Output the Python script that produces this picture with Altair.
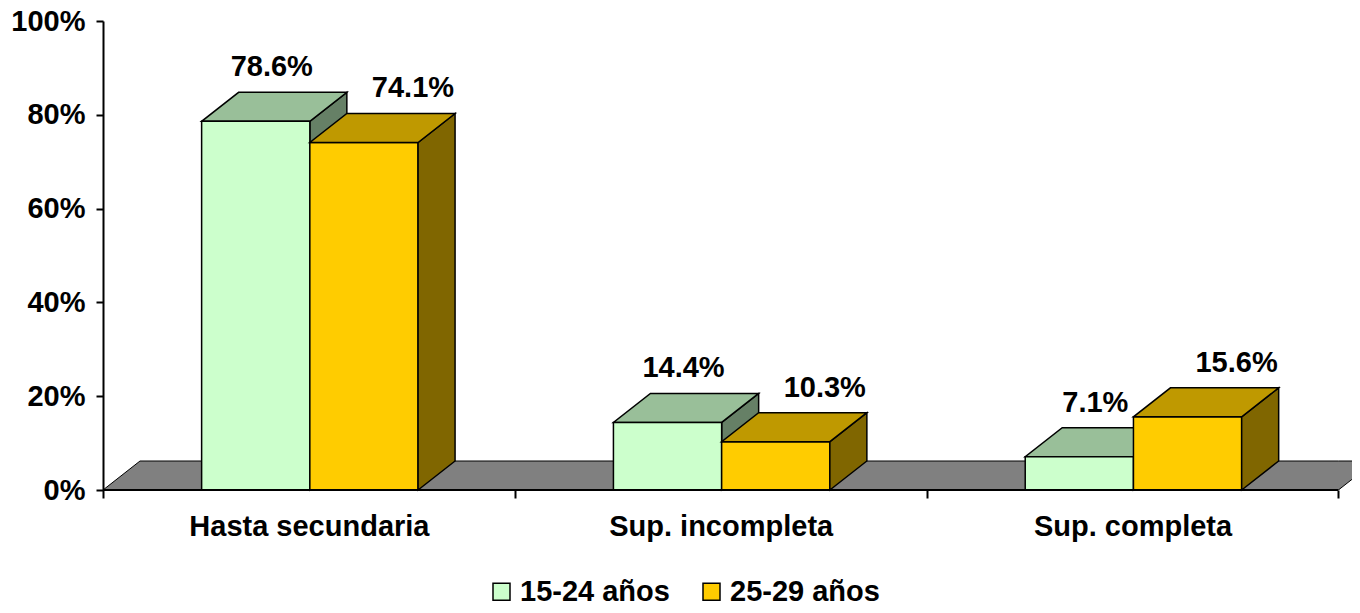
import json
import altair as alt
import pandas as pd

# ---------------- data ----------------
categories = ["Hasta secundaria", "Sup. incompleta", "Sup. completa"]
series = ["15-24 años", "25-29 años"]
values_15_24 = [78.6, 14.4, 7.1]
values_25_29 = [74.1, 10.3, 15.6]
y_ticks = [0, 20, 40, 60, 80, 100]

# ---------------- style ----------------
FONT = "Liberation Sans"
FS = 29
PLOT_W = 1249
PLOT_H = 469
PX_PER_CAT = 411.8
X_MAX = PLOT_W / PX_PER_CAT
BAR_START = 0.2395          # left edge of first bar within its category (category units)
BAR_W = 0.2628              # width of one bar (category units)
DEPTH_X = 37 / PX_PER_CAT   # 3D depth, horizontal
DEPTH_Y = 29 / PLOT_H * 100 # 3D depth, vertical (percent units)

front_colors = ["#CCFFCC", "#FFCC00"]
top_colors = ["#99BF99", "#BF9900"]
side_colors = ["#668066", "#806600"]
floor_color = "#808080"
label_dx = [16, 49]

# ---------------- geometry tables (built from the values) ----------------
bars, tops, sides = [], [], []
for s_idx, vals in enumerate([values_15_24, values_25_29]):
    for c_idx, v in enumerate(vals):
        x0 = c_idx + BAR_START + s_idx * BAR_W
        x1 = x0 + BAR_W
        bid = f"{s_idx}-{c_idx}"
        bars.append({"id": bid, "series": series[s_idx], "s": s_idx, "cat": categories[c_idx],
                     "x0": x0, "x1": x1, "xc": (x0 + x1) / 2, "v": v,
                     "label": f"{v:.1f}%"})
        for x, lo, hi in [(x0, v, v), (x0 + DEPTH_X, v, v + DEPTH_Y),
                          (x1, v, v + DEPTH_Y), (x1 + DEPTH_X, v + DEPTH_Y, v + DEPTH_Y)]:
            tops.append({"id": bid, "s": s_idx, "x": x, "lo": lo, "hi": hi})
        for x, lo, hi in [(x1, 0, v), (x1 + DEPTH_X, DEPTH_Y, v + DEPTH_Y)]:
            sides.append({"id": bid, "s": s_idx, "x": x, "lo": lo, "hi": hi})

n_cat = len(categories)
floor = pd.DataFrame([
    {"x": 0, "lo": 0, "hi": 0},
    {"x": DEPTH_X, "lo": 0, "hi": DEPTH_Y},
    {"x": n_cat, "lo": 0, "hi": DEPTH_Y},
    {"x": n_cat + DEPTH_X, "lo": DEPTH_Y, "hi": DEPTH_Y},
])
bars_df = pd.DataFrame(bars)
tops_df = pd.DataFrame(tops)
sides_df = pd.DataFrame(sides)
axis_line = pd.DataFrame([{"x": 0, "x2": n_cat, "y": 0}])

xscale = alt.Scale(domain=[0, X_MAX], nice=False, zero=False)
yscale = alt.Scale(domain=[0, 100], nice=False)

label_expr = f"(datum.value % 1 == 0.5) ? {json.dumps(categories)}[floor(datum.value)] : ''"

x_axis = alt.Axis(
    values=[0, 0.5, 1, 1.5, 2, 2.5, 3], title=None, domain=False, grid=False,
    tickSize=8, tickWidth=2, tickColor="black",
    tickOpacity={"condition": {"test": "datum.value % 1 == 0", "value": 1}, "value": 0},
    labelExpr=label_expr, labelFont=FONT, labelFontSize=FS, labelFontWeight="bold",
    labelColor="black", labelPadding=14, labelOverlap=False, labelFlush=False,
    labelLimit=500,
)
y_axis = alt.Axis(
    values=y_ticks, title=None, grid=False, domain=True, domainColor="black", domainWidth=2,
    tickSize=7, tickWidth=2, tickColor="black", labelExpr="datum.value + '%'",
    labelFont=FONT, labelFontSize=FS, labelFontWeight="bold", labelColor="black",
    labelPadding=11, labelLimit=200,
)

STROKE = dict(stroke="black", strokeWidth=1.5)


def X(field):
    return alt.X(field, scale=xscale, axis=x_axis, title=None)


def Y(field, **kw):
    return alt.Y(field, scale=yscale, axis=y_axis, title=None, **kw)


floor_layer = alt.Chart(floor).mark_area(color=floor_color, stroke="black", strokeWidth=1,
                                         clip=True).encode(
    x=X("x:Q"), y=Y("lo:Q", stack=None), y2="hi:Q",
)


def face_layer(df, s_idx, colors):
    return alt.Chart(df).transform_filter(f"datum.s == {s_idx}").mark_area(
        color=colors[s_idx], **STROKE).encode(
        x=X("x:Q"), y=Y("lo:Q", stack=None), y2="hi:Q", detail="id:N",
    )


front_layer = alt.Chart(bars_df).mark_bar(**STROKE, opacity=1).encode(
    x=X("x0:Q"), x2="x1:Q",
    y=Y("v:Q"), y2=alt.datum(0),
    color=alt.Color("series:N", scale=alt.Scale(domain=series, range=front_colors),
                    legend=alt.Legend(
                        title=None, orient="none", legendX=384, legendY=556,
                        direction="horizontal", symbolType="square", symbolSize=289,
                        symbolStrokeColor="black", symbolStrokeWidth=1.5, symbolOpacity=1,
                        labelFont=FONT, labelFontSize=FS, labelFontWeight="bold",
                        labelColor="black", labelOffset=4, columnPadding=27, padding=0,
                        labelLimit=300,
                    )),
)

axis_rule = alt.Chart(axis_line).mark_rule(color="black", strokeWidth=2).encode(
    x=X("x:Q"), x2="x2:Q", y=Y("y:Q"),
)


def label_layer(s_idx):
    return alt.Chart(bars_df).transform_filter(f"datum.s == {s_idx}").mark_text(
        font=FONT, fontSize=FS, fontWeight="bold", color="black",
        align="center", baseline="middle", dx=label_dx[s_idx], dy=-54,
    ).encode(
        x=X("xc:Q"), y=Y("v:Q"), text="label:N",
    )


chart = alt.layer(
    floor_layer,
    face_layer(sides_df, 0, side_colors),
    face_layer(tops_df, 0, top_colors),
    front_layer,
    face_layer(sides_df, 1, side_colors),
    face_layer(tops_df, 1, top_colors),
    axis_rule,
    label_layer(0),
    label_layer(1),
).properties(
    width=PLOT_W, height=PLOT_H,
    autosize=alt.AutoSizeParams(type="none"),
    padding={"left": 95, "top": 13, "right": 0, "bottom": 115},
    background="white",
).configure_view(stroke=None)

chart.save("out.html", embed_options={"renderer": "svg", "actions": False})
